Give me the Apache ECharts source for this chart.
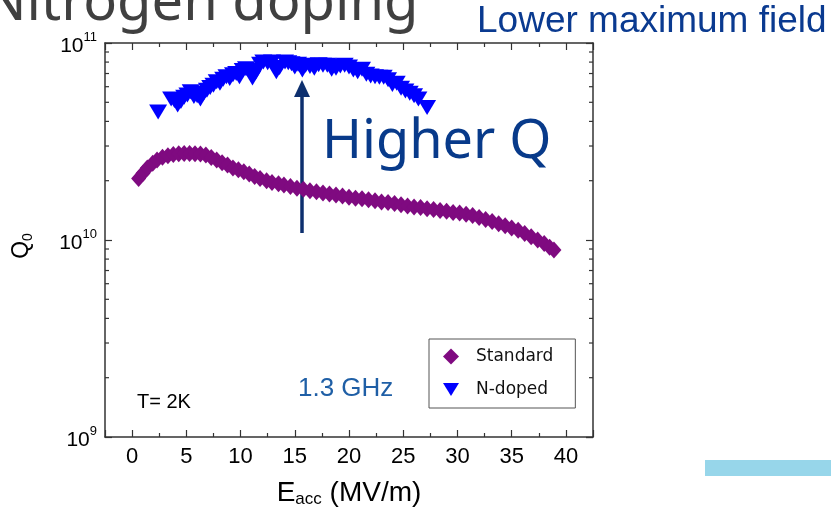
<!DOCTYPE html>
<html>
<head>
<meta charset="utf-8">
<script src="https://cdn.jsdelivr.net/npm/echarts@6/dist/echarts.min.js"></script>
<style>
	html, body { margin: 0; padding: 0; background: #fff; }
	#chartContainer { width: 831px; height: 519px; }
</style>
</head>
<body>
<div id="chartContainer"></div>
<script>
// Standard cavity: Eacc (MV/m) and Q0 (x 1e10)
var standardE = [0.6, 1.0, 1.4, 1.9, 2.3, 2.8, 3.3, 3.8, 4.3, 4.8,
	5.3, 5.8, 6.3, 6.8, 7.3, 7.8, 8.3, 8.8, 9.3, 9.8,
	10.3, 10.8, 11.3, 11.8, 12.4, 12.9, 13.5, 14.0, 14.6, 15.2,
	15.8, 16.4, 17.0, 17.6, 18.2, 18.8, 19.4, 20.0, 20.6, 21.2,
	21.8, 22.4, 23.0, 23.6, 24.2, 24.8, 25.4, 26.0, 26.6, 27.2,
	27.8, 28.4, 29.0, 29.6, 30.2, 30.8, 31.4, 32.0, 32.6, 33.2,
	33.8, 34.4, 35.0, 35.6, 36.2, 36.8, 37.4, 38.0, 38.5, 38.9];
var standardQ = [2.05, 2.18, 2.32, 2.45, 2.55, 2.63, 2.68, 2.72, 2.74, 2.75,
	2.75, 2.74, 2.73, 2.70, 2.62, 2.55, 2.47, 2.40, 2.32, 2.27,
	2.22, 2.16, 2.10, 2.05, 2.00, 1.96, 1.93, 1.90, 1.87, 1.83,
	1.81, 1.78, 1.76, 1.73, 1.71, 1.69, 1.67, 1.65, 1.63, 1.62,
	1.60, 1.58, 1.56, 1.55, 1.53, 1.51, 1.49, 1.47, 1.46, 1.44,
	1.43, 1.41, 1.40, 1.38, 1.37, 1.35, 1.33, 1.30, 1.27, 1.24,
	1.21, 1.18, 1.15, 1.12, 1.08, 1.04, 1.00, 0.96, 0.92, 0.89];

// N-doped cavity
var dopedE = [2.4, 3.6, 3.9, 4.2, 4.5, 4.8, 5.1, 5.4, 5.7, 6.0,
	6.3, 6.6, 6.9, 7.2, 7.5, 7.8, 8.1, 8.4, 8.7, 9.0,
	9.3, 9.6, 9.9, 10.2, 10.5, 10.8, 11.1, 11.4, 11.8, 12.1,
	12.5, 12.9, 13.3, 13.6, 14.1, 14.4, 14.7, 15.0, 15.3, 15.7,
	16.0, 16.4, 16.8, 17.2, 17.6, 18.0, 18.4, 18.8, 19.2, 19.6,
	20.0, 20.4, 20.8, 21.2, 21.6, 22.0, 22.4, 22.8, 23.2, 23.6,
	24.0, 24.4, 24.8, 25.2, 25.6, 26.0, 26.4, 27.2];
var dopedQ = [4.47, 5.20, 5.10, 4.85, 5.05, 5.30, 5.45, 5.65, 5.35, 5.40,
	5.20, 5.55, 5.75, 5.95, 6.10, 6.35, 6.25, 6.55, 6.75, 6.60,
	6.90, 7.00, 6.75, 7.25, 7.40, 7.30, 6.65, 7.10, 7.80, 8.00,
	7.95, 8.00, 7.15, 7.50, 8.00, 7.95, 7.85, 7.55, 7.80, 7.30,
	7.70, 7.60, 7.45, 7.75, 7.70, 7.70, 7.35, 7.45, 7.65, 7.70,
	7.55, 7.30, 7.15, 7.35, 6.95, 6.80, 6.75, 6.70, 6.70, 6.50,
	6.15, 6.25, 5.90, 5.70, 5.55, 5.40, 5.20, 4.70];

var seriesNames = ['Standard', 'N-doped'];
var xRange = [-2.5, 42.5];
var yRange = [1e9, 1e11];
var yMinorTicks = [2e9, 3e9, 4e9, 5e9, 6e9, 7e9, 8e9, 9e9,
	2e10, 3e10, 4e10, 5e10, 6e10, 7e10, 8e10, 9e10];

var option = null;

function toPoints(xs, qs) {
	var pts = [];
	for (var i = 0; i < xs.length; i++) {
		pts.push([xs[i], qs[i] * 1e10]);
	}
	return pts;
}

function renderMinorTick(params, api) {
	var left = api.coord([xRange[0], api.value(1)]);
	var right = api.coord([xRange[1], api.value(1)]);
	var st = { stroke: '#333', lineWidth: 1.2 };
	return {
		type: 'group',
		children: [
			{ type: 'line', shape: { x1: left[0], y1: left[1], x2: left[0] + 4, y2: left[1] }, style: st },
			{ type: 'line', shape: { x1: right[0], y1: right[1], x2: right[0] - 4, y2: right[1] }, style: st }
		]
	};
}

function initOption() {
	var axisLine = { show: true, onZero: false, lineStyle: { color: '#333', width: 1.5 } };
	var tick = { show: true, inside: true, length: 7, lineStyle: { color: '#333', width: 1.2 } };
	var minor = { show: true, splitNumber: 2, length: 4, lineStyle: { color: '#333', width: 1.2 } };

	option = {
		animation: false,
		backgroundColor: '#fff',
		grid: { left: 105, top: 43, width: 488, height: 394 },
		legend: {
			data: seriesNames,
			orient: 'vertical',
			left: 429,
			top: 339,
			padding: [8, 22, 9, 14],
			itemGap: 14,
			itemWidth: 16,
			itemHeight: 16,
			borderColor: '#555',
			borderWidth: 1,
			textStyle: { fontFamily: 'DejaVu Sans', fontSize: 17, color: '#111', lineHeight: 19, padding: [0, 0, 0, 12] }
		},
		xAxis: [{
			type: 'value',
			min: xRange[0],
			max: xRange[1],
			splitNumber: 9,
			position: 'bottom',
			axisLine: axisLine,
			axisTick: tick,
			minorTick: minor,
			splitLine: { show: false },
			axisLabel: {
				margin: 9,
				fontFamily: 'Liberation Sans',
				fontSize: 22,
				color: '#000',
				formatter: function(v) { return v % 5 === 0 ? String(v) : ''; }
			},
			name: '{e|E}{sub|acc}{t| (MV/m)}',
			nameLocation: 'middle',
			nameGap: 41,
			nameTextStyle: {
				rich: {
					e: { fontFamily: 'Liberation Sans', fontSize: 28, color: '#000', lineHeight: 30 },
					sub: { fontFamily: 'Liberation Sans', fontSize: 17, color: '#000', verticalAlign: 'bottom', lineHeight: 12 },
					t: { fontFamily: 'Liberation Sans', fontSize: 28, color: '#000', lineHeight: 30 }
				}
			}
		}, {
			type: 'value',
			min: xRange[0],
			max: xRange[1],
			splitNumber: 9,
			position: 'top',
			axisLine: axisLine,
			axisTick: tick,
			minorTick: minor,
			splitLine: { show: false },
			axisLabel: { show: false }
		}],
		yAxis: [{
			type: 'log',
			logBase: 10,
			min: yRange[0],
			max: yRange[1],
			position: 'left',
			axisLine: axisLine,
			axisTick: tick,
			splitLine: { show: false },
			axisLabel: {
				margin: 8,
				formatter: function(v) {
					return '{b|10}{s|' + Math.round(Math.log(v) / Math.LN10) + '}';
				},
				rich: {
					b: { fontFamily: 'Liberation Sans', fontSize: 21, color: '#000', lineHeight: 24, padding: [6, 0, 0, 0] },
					s: { fontFamily: 'Liberation Sans', fontSize: 13, color: '#000', verticalAlign: 'top', lineHeight: 13 }
				}
			},
			name: '{q|Q}{sub|0}',
			nameLocation: 'middle',
			nameRotate: 90,
			nameGap: 70,
			nameTextStyle: {
				padding: [0, 12, 0, 0],
				rich: {
					q: { fontFamily: 'Liberation Sans', fontSize: 23, color: '#000', lineHeight: 26 },
					sub: { fontFamily: 'Liberation Sans', fontSize: 14, color: '#000', verticalAlign: 'bottom', lineHeight: 12 }
				}
			}
		}, {
			type: 'log',
			logBase: 10,
			min: yRange[0],
			max: yRange[1],
			position: 'right',
			axisLine: axisLine,
			axisTick: tick,
			splitLine: { show: false },
			axisLabel: { show: false }
		}],
		graphic: [
			{ type: 'text', left: -16, top: -24, style: { text: 'Nitrogen doping', font: '56px "Noto Sans"', fill: '#404040' } },
			{ type: 'text', left: 477, top: 3, style: { text: 'Lower maximum field', font: '37px "Liberation Sans"', fill: '#0a3a90' } },
			{ type: 'text', left: 322, top: 116, style: { text: 'Higher Q', font: '54px "Noto Sans"', fill: '#083a8a' } },
			{ type: 'text', left: 137, top: 392, style: { text: 'T= 2K', font: '20px "Liberation Sans"', fill: '#000' } },
			{ type: 'text', left: 298, top: 376, style: { text: '1.3 GHz', font: '26px "Liberation Sans"', fill: '#1f5fa6' } },
			{ type: 'line', shape: { x1: 302, y1: 233, x2: 302, y2: 94 }, style: { stroke: '#0d2f6e', lineWidth: 3.5 } },
			{ type: 'polygon', shape: { points: [[302, 80], [294, 97], [310, 97]] }, style: { fill: '#0d2f6e' } },
			{ type: 'rect', shape: { x: 705, y: 460, width: 126, height: 16 }, style: { fill: '#97d6ea' } }
		],
		series: [{
			name: seriesNames[0],
			type: 'scatter',
			symbol: 'diamond',
			symbolSize: [15, 17],
			itemStyle: { color: '#7f0a80', opacity: 1 },
			data: toPoints(standardE, standardQ)
		}, {
			name: seriesNames[1],
			type: 'scatter',
			symbol: 'path://M0,0L16,0L8,13Z',
			symbolSize: [18, 15],
			itemStyle: { color: '#0000ff', opacity: 1 },
			data: toPoints(dopedE, dopedQ)
		}, {
			type: 'custom',
			silent: true,
			renderItem: renderMinorTick,
			data: yMinorTicks.map(function(v) { return [xRange[0], v]; }),
			z: 3
		}]
	};
}

function initChart() {
	initOption();
	var chartContainer = echarts.init(document.getElementById('chartContainer'));
	chartContainer.setOption(option);
}

initChart();
</script>
</body>
</html>
